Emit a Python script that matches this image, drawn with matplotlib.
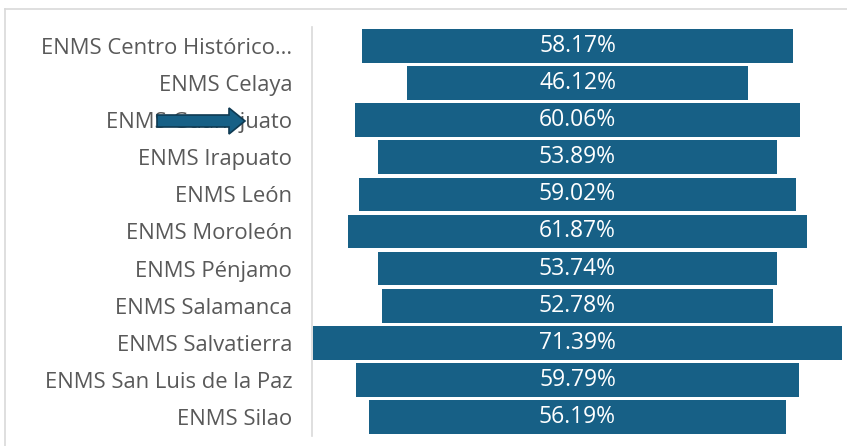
import matplotlib
matplotlib.use("Agg")
import matplotlib.pyplot as plt
from matplotlib.patches import FancyArrow
from matplotlib.lines import Line2D

# data (top to bottom)
campuses = [
    "ENMS Centro Histórico...",
    "ENMS Celaya",
    "ENMS Guanajuato",
    "ENMS Irapuato",
    "ENMS León",
    "ENMS Moroleón",
    "ENMS Pénjamo",
    "ENMS Salamanca",
    "ENMS Salvatierra",
    "ENMS San Luis de la Paz",
    "ENMS Silao",
]
percentages = [58.17, 46.12, 60.06, 53.89, 59.02, 61.87, 53.74, 52.78, 71.39, 59.79, 56.19]

BAR_COLOR = "#176086"
TEXT_COLOR = "#595959"
FONT = "Open Sans"

W, H = 847, 446
fig = plt.figure(figsize=(W / 100, H / 100), dpi=100)

# axes placed in pixel coordinates
left, right, top, bottom = 313, 842, 27.5, 435.5
ax = fig.add_axes([left / W, 1 - bottom / H, (right - left) / W, (bottom - top) / H])

for side in ["top", "right", "bottom"]:
    ax.spines[side].set_visible(False)
ax.spines["left"].set_color("#d9d9d9")
ax.spines["left"].set_linewidth(1.2)
ax.spines["left"].set_position(("outward", 1))

y = list(range(len(campuses)))
lefts = [-p / 2 for p in percentages]
ax.barh(y, percentages, left=lefts, height=0.91, color=BAR_COLOR)

for yi, p in zip(y, percentages):
    ax.text(0, yi, f"{p:.2f}%", ha="center", va="center", color="white",
            fontsize=16.5, family=FONT)

half = max(percentages) / 2
ax.set_xlim(-half, half)
ax.set_ylim(len(campuses) - 0.5, -0.5)
ax.set_xticks([])
ax.set_yticks(y)
ax.set_yticklabels(campuses, fontsize=15.8, family=FONT, color=TEXT_COLOR)
ax.tick_params(axis="y", length=0, pad=14)

# outer chart border (top and left edges visible)
fig.add_artist(Line2D([5 / W, 1], [1 - 9 / H, 1 - 9 / H], color="#d9d9d9", lw=1.2))
fig.add_artist(Line2D([5 / W, 5 / W], [1 - 9 / H, 0], color="#d9d9d9", lw=1.2))

# arrow shape drawn over the Guanajuato label
fig.add_artist(FancyArrow(157 / W, 1 - 121 / H, 88 / W, 0, width=12 / H,
                          head_width=26 / H, head_length=16 / W,
                          length_includes_head=True, transform=fig.transFigure,
                          facecolor=BAR_COLOR, edgecolor="#0f3a52", lw=1.2))

fig.savefig("out.png", dpi=100)
